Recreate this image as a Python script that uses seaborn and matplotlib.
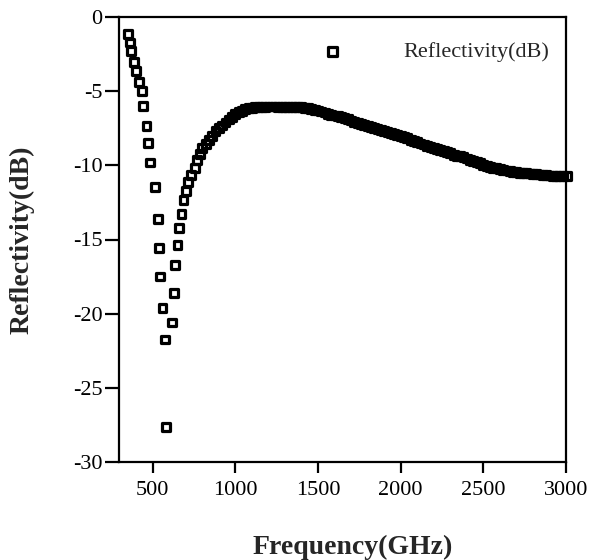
import numpy as np
import pandas as pd
import matplotlib
matplotlib.use("Agg")
import matplotlib.pyplot as plt
import seaborn as sns

# ---- data (Frequency in GHz, Reflectivity in dB) ----
freq_dip = [350, 362, 371, 385, 401, 417, 435, 441, 462, 470, 482, 515, 530, 538,
            542, 559, 575, 579,
            619, 627, 637, 650, 658, 674, 686, 700, 714, 734, 754, 768, 784]
refl_dip = [-1.15, -1.7, -2.3, -3.0, -3.6, -4.35, -5.0, -6.0, -7.35, -8.5, -9.8,
            -11.45, -13.6, -15.6, -17.5, -19.6, -21.75, -27.66,
            -20.6, -18.6, -16.75, -15.4, -14.2, -13.25, -12.35, -11.7, -11.1,
            -10.65, -10.2, -9.64, -9.24]

freq_band = [800, 820, 840, 860, 880, 900, 920, 940, 960, 980,
             1000, 1020, 1040, 1060, 1080, 1100, 1120, 1140, 1160, 1180,
             1200, 1220, 1240, 1260, 1280, 1300, 1320, 1340, 1360, 1380,
             1400, 1420, 1440, 1460, 1480, 1500, 1520, 1540, 1560, 1580,
             1600, 1620, 1640, 1660, 1680, 1700, 1720, 1740, 1760, 1780,
             1800, 1820, 1840, 1860, 1880, 1900, 1920, 1940, 1960, 1980,
             2000, 2020, 2040, 2060, 2080, 2100, 2120, 2140, 2160, 2180,
             2200, 2220, 2240, 2260, 2280, 2300, 2320, 2340, 2360, 2380,
             2400, 2420, 2440, 2460, 2480, 2500, 2520, 2540, 2560, 2580,
             2600, 2620, 2640, 2660, 2680, 2700, 2720, 2740, 2760, 2780,
             2800, 2820, 2840, 2860, 2880, 2900, 2920, 2940, 2960, 2980, 3005]
refl_band = [-8.85, -8.55, -8.3, -8.0, -7.7, -7.5, -7.3, -7.1, -6.9, -6.75,
             -6.55, -6.42, -6.32, -6.2, -6.15, -6.12, -6.08, -6.05, -6.04, -6.03,
             -6.02, -6.02, -6.02, -6.03, -6.03, -6.04, -6.04, -6.05, -6.05, -6.06,
             -6.08, -6.11, -6.15, -6.19, -6.24, -6.29, -6.36, -6.43, -6.5, -6.57,
             -6.63, -6.69, -6.75, -6.81, -6.88, -6.97, -7.06, -7.14, -7.22, -7.29,
             -7.35, -7.4, -7.46, -7.52, -7.58, -7.66, -7.74, -7.81, -7.88, -7.95,
             -8.02, -8.09, -8.17, -8.26, -8.35, -8.44, -8.52, -8.59, -8.66, -8.73,
             -8.8, -8.87, -8.94, -9.01, -9.08, -9.18, -9.28, -9.34, -9.39, -9.44,
             -9.53, -9.62, -9.7, -9.78, -9.86, -9.96, -10.05, -10.1, -10.15, -10.2,
             -10.25, -10.3, -10.34, -10.39, -10.43, -10.47, -10.5, -10.51, -10.53, -10.54,
             -10.56, -10.58, -10.61, -10.63, -10.66, -10.68, -10.7, -10.72, -10.74, -10.72,
             -10.7]

x_ticks = [500, 1000, 1500, 2000, 2500, 3000]
y_ticks = [0, -5, -10, -15, -20, -25, -30]
series_label = "Reflectivity(dB)"
x_label = "Frequency(GHz)"
y_label = "Reflectivity(dB)"

df = pd.DataFrame({"freq": freq_dip + freq_band, "refl": refl_dip + refl_band})

sns.set_style("ticks")
plt.rcParams["font.family"] = ["Liberation Serif", "DejaVu Serif"]
plt.rcParams["axes.unicode_minus"] = False

fig = plt.figure(figsize=(5.91, 5.60), dpi=100)
W, H = 591, 560
ax_l, ax_r, ax_t, ax_b = 119, 566, 17.3, 461.7
ax = fig.add_axes([ax_l / W, 1 - ax_b / H, (ax_r - ax_l) / W, (ax_b - ax_t) / H])

sns.scatterplot(data=df, x="freq", y="refl", ax=ax, marker="s", s=32,
                facecolors="none", edgecolor="black", linewidth=2.3,
                label=series_label, clip_on=False, zorder=3)
for c in ax.collections:
    c.set_facecolor("none")
    c.set_edgecolor("black")

ax.set_xlim(296, 3000)
ax.set_ylim(-30, 0)
ax.set_xticks(x_ticks)
ax.set_yticks(y_ticks)
ax.set_xticklabels([str(v) for v in x_ticks])
ax.set_yticklabels([str(v) for v in y_ticks])

for side in ["left", "right", "top", "bottom"]:
    ax.spines[side].set_visible(True)
    ax.spines[side].set_linewidth(1.6)
    ax.spines[side].set_color("black")

ax.tick_params(axis="x", direction="out", length=8, width=1.6, pad=6,
               labelsize=16, colors="black")
ax.tick_params(axis="y", direction="out", length=10, width=1.6, pad=2,
               labelsize=16, colors="black")
ax.grid(False)

ax.set_xlabel(x_label, fontsize=20, fontweight="bold", va="center")
ax.xaxis.set_label_coords((353 - ax_l) / (ax_r - ax_l), -(547 - ax_b) / (ax_b - ax_t))
ax.set_ylabel(y_label, fontsize=20, fontweight="bold", va="center")
ax.yaxis.set_label_coords((22 - ax_l) / (ax_r - ax_l), 0.5)

leg = ax.legend(loc="center left", bbox_to_anchor=(321 / W, 1 - 52 / H),
                bbox_transform=fig.transFigure, frameon=False, fontsize=16,
                handlelength=1.0, handletextpad=2.7, borderpad=0, borderaxespad=0,
                markerscale=1.15)

fig.savefig("out.png", dpi=100, facecolor="white")
